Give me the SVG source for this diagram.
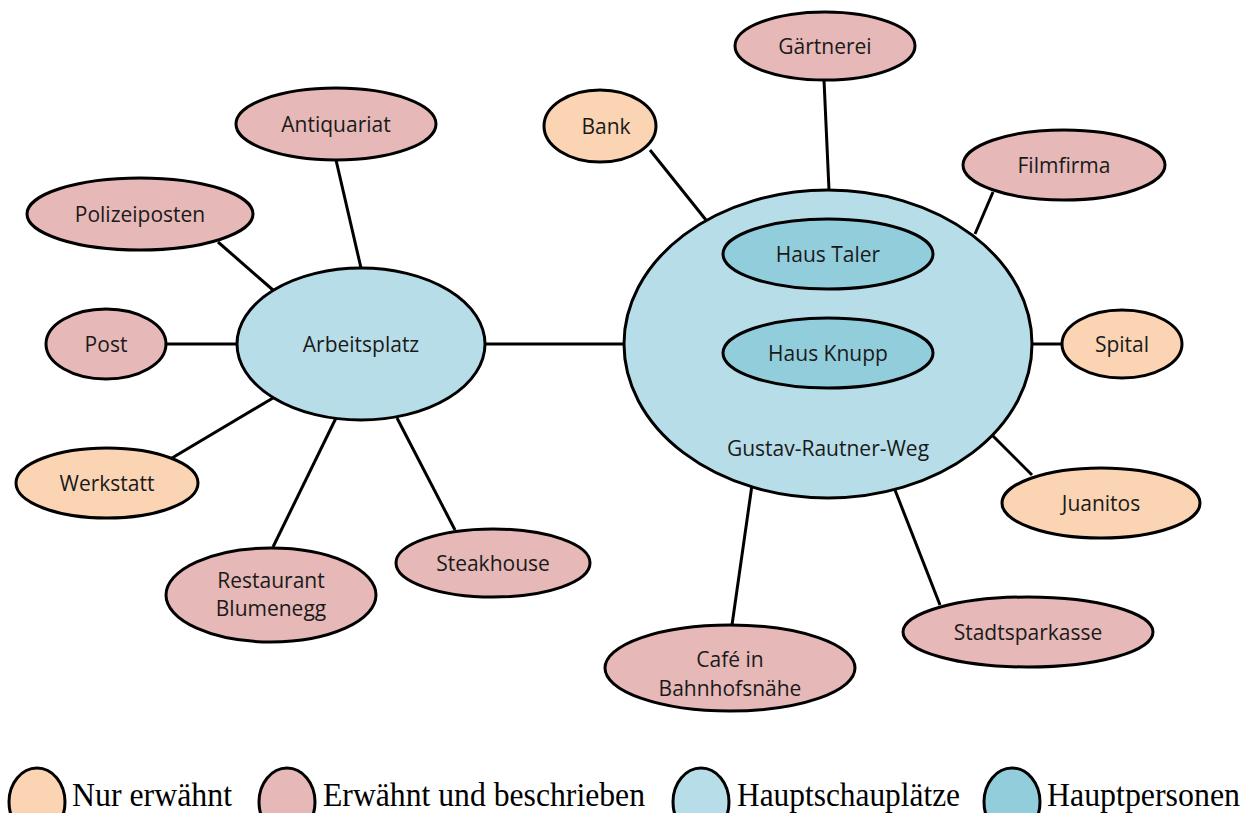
<svg xmlns="http://www.w3.org/2000/svg" width="1253" height="813" viewBox="0 0 1253 813">
<style>
.n{stroke:#000;stroke-width:3}
.a{fill:#FBD4B4}
.b{fill:#E6B8B7}
.c{fill:#B7DEE8}
.d{fill:#92CDDC}
text{font-family:"Open Sans","Noto Sans",sans-serif;font-size:21px;fill:#1a1a1a;text-anchor:middle}
.l{font-family:"Liberation Serif","Times New Roman",serif;font-size:33px;text-anchor:start;fill:#000}
#edges line{stroke:#000;stroke-width:3}
</style>
<rect width="1253" height="813" fill="#fff"/>
<g id="edges">
<line x1="486" y1="344" x2="625" y2="344"/>
<line x1="336" y1="160" x2="361" y2="268"/>
<line x1="218" y1="242" x2="273" y2="290"/>
<line x1="166" y1="344" x2="237" y2="344"/>
<line x1="172" y1="458" x2="273" y2="398"/>
<line x1="273" y1="547" x2="336" y2="418"/>
<line x1="455" y1="530" x2="397" y2="418"/>
<line x1="650" y1="150" x2="706" y2="220"/>
<line x1="824" y1="80" x2="829" y2="190"/>
<line x1="993" y1="192" x2="975" y2="234"/>
<line x1="1032" y1="344" x2="1062" y2="344"/>
<line x1="993" y1="436" x2="1032" y2="475"/>
<line x1="940" y1="605" x2="895" y2="490"/>
<line x1="732" y1="625" x2="752" y2="485"/>
</g>
<g id="arbeitsplatz"><ellipse class="n c" cx="361" cy="344" rx="124" ry="76"/><text x="361" y="352">Arbeitsplatz</text></g>
<g id="gustav"><ellipse class="n c" cx="828" cy="344" rx="204" ry="154"/><text x="828" y="456">Gustav-Rautner-Weg</text></g>
<g id="haustaler"><ellipse class="n d" cx="828" cy="254" rx="105" ry="35"/><text x="828" y="262">Haus Taler</text></g>
<g id="hausknupp"><ellipse class="n d" cx="828" cy="353" rx="105" ry="35"/><text x="828" y="361">Haus Knupp</text></g>
<g id="antiquariat"><ellipse class="n b" cx="336" cy="124" rx="100" ry="36"/><text x="336" y="132">Antiquariat</text></g>
<g id="polizeiposten"><ellipse class="n b" cx="140" cy="214" rx="113" ry="36"/><text x="140" y="222">Polizeiposten</text></g>
<g id="post"><ellipse class="n b" cx="106" cy="344" rx="60" ry="35"/><text x="106" y="352">Post</text></g>
<g id="werkstatt"><ellipse class="n a" cx="107" cy="483" rx="91" ry="35"/><text x="107" y="491">Werkstatt</text></g>
<g id="restaurant"><ellipse class="n b" cx="271" cy="595" rx="105" ry="47"/><text x="271" y="588">Restaurant</text><text x="271" y="616">Blumenegg</text></g>
<g id="steakhouse"><ellipse class="n b" cx="493" cy="563" rx="97" ry="34"/><text x="493" y="571">Steakhouse</text></g>
<g id="bank"><ellipse class="n a" cx="600" cy="126" rx="56" ry="36"/><text x="606" y="134">Bank</text></g>
<g id="gaertnerei"><ellipse class="n b" cx="825" cy="46" rx="90" ry="34"/><text x="825" y="54">Gärtnerei</text></g>
<g id="filmfirma"><ellipse class="n b" cx="1064" cy="165" rx="101" ry="35"/><text x="1064" y="173">Filmfirma</text></g>
<g id="spital"><ellipse class="n a" cx="1122" cy="344" rx="60" ry="34"/><text x="1122" y="352">Spital</text></g>
<g id="juanitos"><ellipse class="n a" cx="1101" cy="503" rx="99" ry="35"/><text x="1101" y="511">Juanitos</text></g>
<g id="stadtsparkasse"><ellipse class="n b" cx="1028" cy="632" rx="125" ry="35"/><text x="1028" y="640">Stadtsparkasse</text></g>
<g id="cafe"><ellipse class="n b" cx="730" cy="668" rx="125" ry="43"/><text x="730" y="667">Café in</text><text x="730" y="696">Bahnhofsnähe</text></g>
<g id="legend">
<ellipse class="n a" cx="37" cy="802" rx="28" ry="34"/><text class="l" x="72" y="806" textLength="160" lengthAdjust="spacingAndGlyphs">Nur erwähnt</text>
<ellipse class="n b" cx="287" cy="802" rx="28" ry="34"/><text class="l" x="323" y="806" textLength="322" lengthAdjust="spacingAndGlyphs">Erwähnt und beschrieben</text>
<ellipse class="n c" cx="701" cy="802" rx="28" ry="34"/><text class="l" x="737" y="806" textLength="223" lengthAdjust="spacingAndGlyphs">Hauptschauplätze</text>
<ellipse class="n d" cx="1012" cy="802" rx="28" ry="34"/><text class="l" x="1047" y="806" textLength="193" lengthAdjust="spacingAndGlyphs">Hauptpersonen</text>
</g>
</svg>
